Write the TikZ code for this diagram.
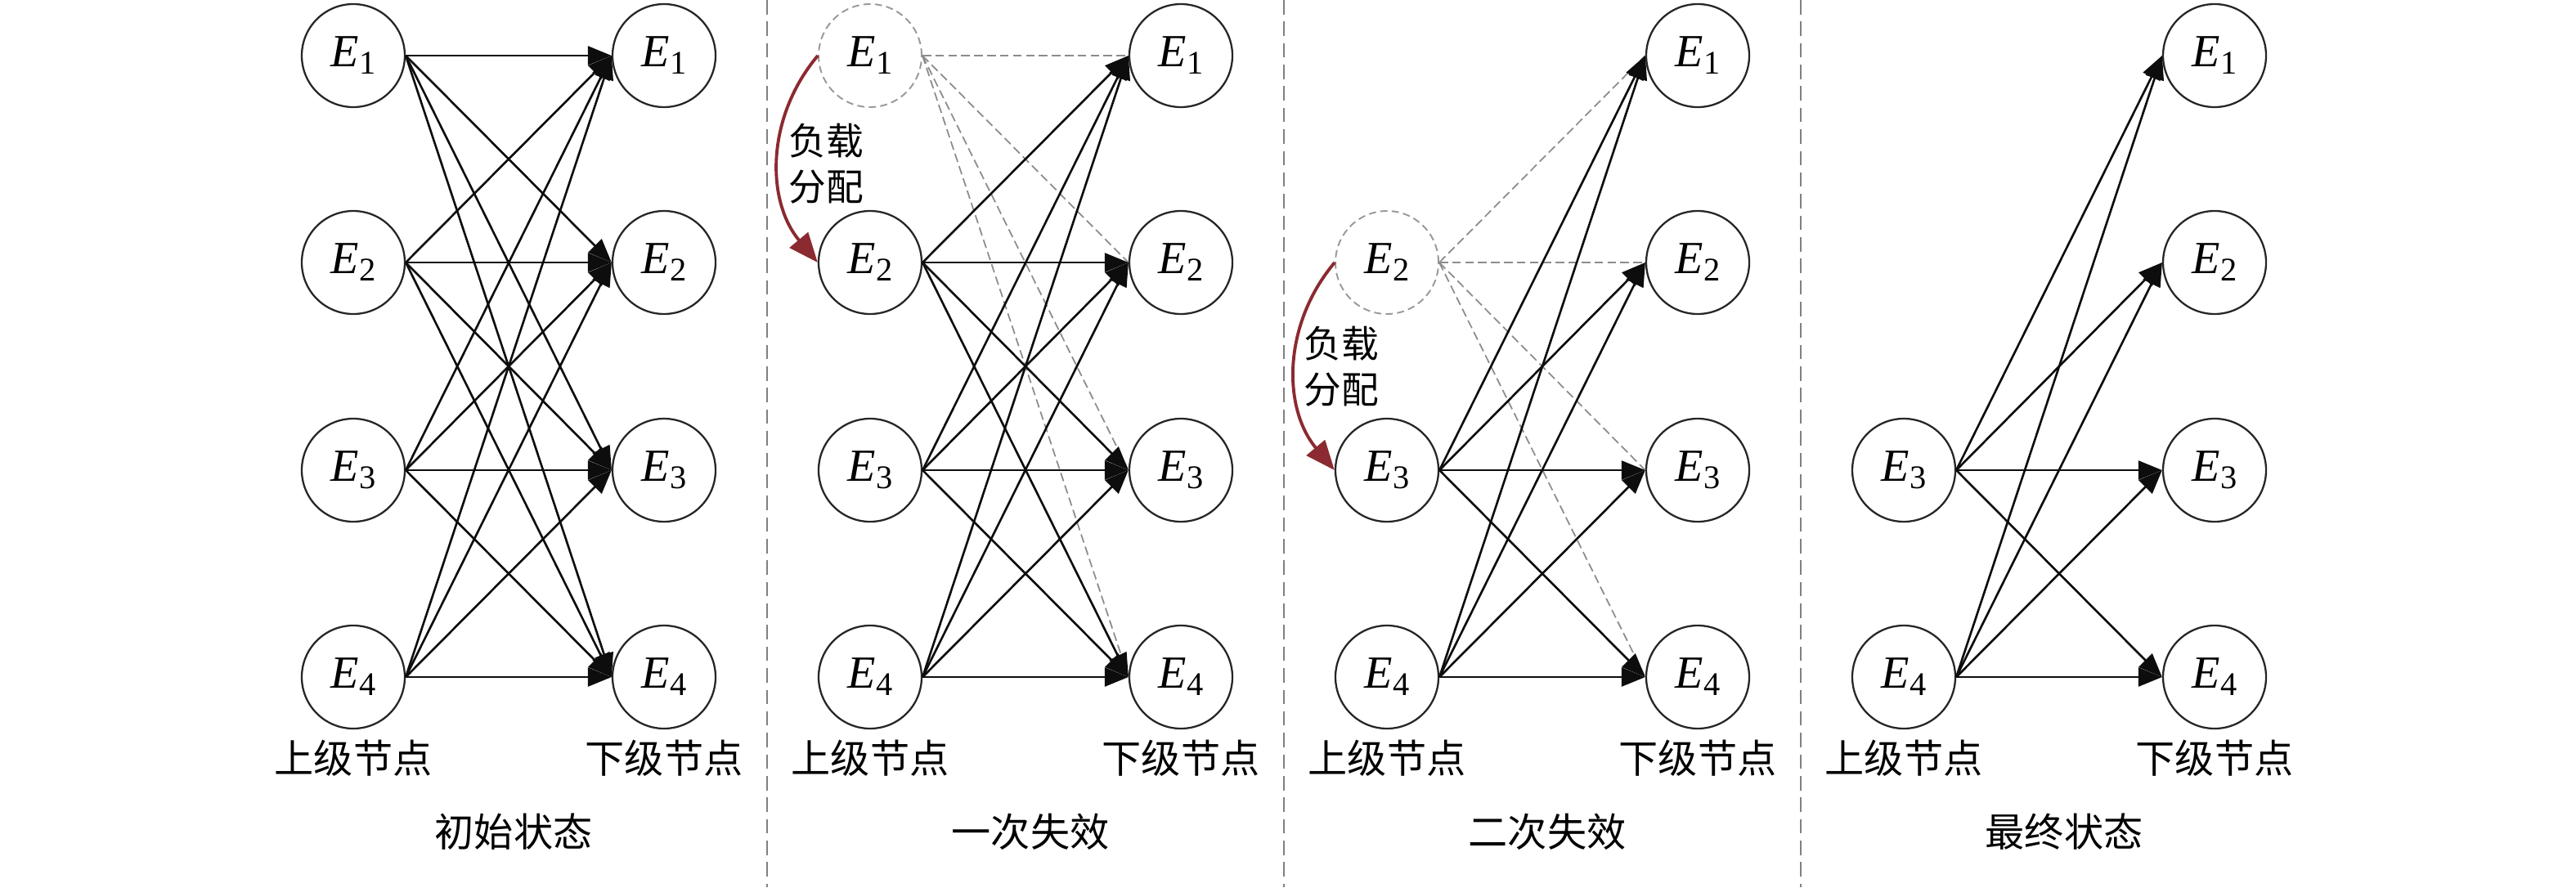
\documentclass[tikz,border=0pt]{standalone}
\usepackage{fontspec}
\setmainfont{Liberation Serif}
\newfontfamily\cjk{Noto Sans CJK SC}
\usetikzlibrary{arrows.meta}
\definecolor{loadred}{RGB}{139,42,48}
\newcommand{\En}[1]{{\fontsize{16pt}{16pt}\selectfont\textit{E}}\kern0.3pt\raisebox{-2.6pt}{\fontsize{11.5pt}{11.5pt}\selectfont #1}}
\begin{document}
\begin{tikzpicture}[x=1cm,y=1cm,
  nd/.style={circle, draw=black!85, line width=0.65pt, minimum size=1.26cm, inner sep=0pt},
  fnd/.style={circle, draw=black!40, dash pattern=on 2.5pt off 1.5pt, line width=0.55pt, minimum size=1.26cm, inner sep=0pt},
  ed/.style={draw=black!95, line width=0.75pt, -{Triangle[length=2.9mm,width=2.3mm]}},
  fed/.style={draw=black!45, line width=0.5pt, dash pattern=on 3pt off 1.5pt},
  lab/.style={font=\cjk\fontsize{13.7pt}{14pt}\selectfont, inner sep=0pt},
  divline/.style={draw=black!50, line width=0.5pt, dash pattern=on 5pt off 2.5pt},
  redarr/.style={draw=loadred, line width=1.1pt, -{Triangle[length=3.6mm,width=2.9mm]}},
  rlab/.style={font=\cjk\fontsize{13pt}{16pt}\selectfont, align=left, inner sep=0pt, anchor=west}
]
\useasboundingbox (0,0) rectangle (31.5,-10.85);

% dividers
\coordinate (d1t) at (9.38,0);    \coordinate (d1b) at (9.38,-10.85);
\coordinate (d2t) at (15.70,0);   \coordinate (d2b) at (15.70,-10.85);
\coordinate (d3t) at (22.02,0);   \coordinate (d3b) at (22.02,-10.85);
\draw[divline] (d1t) -- (d1b);
\draw[divline] (d2t) -- (d2b);
\draw[divline] (d3t) -- (d3b);

% right columns, labels, titles
\foreach \k/\xl/\xr/\tit in {1/4.32/8.12/初始状态, 2/10.64/14.44/一次失效, 3/16.96/20.76/二次失效, 4/23.28/27.08/最终状态}{
  \foreach \j/\y in {1/-0.68,2/-3.21,3/-5.75,4/-8.28}{
    \node[nd] (p\k r\j) at (\xr,\y) {\En{\j}};
  }
  \node[lab] (p\k up) at (\xl,-9.27) {上级节点};
  \node[lab] (p\k down) at (\xr,-9.27) {下级节点};
  \node[lab] (p\k title) at ({(\xl+\xr)/2+0.06},-10.17) {\tit};
}

% left columns
\foreach \j/\y in {1/-0.68,2/-3.21,3/-5.75,4/-8.28}{
  \node[nd] (p1l\j) at (4.32,\y) {\En{\j}};
}
\node[fnd] (p2l1) at (10.64,-0.68) {\En{1}};
\foreach \j/\y in {2/-3.21,3/-5.75,4/-8.28}{
  \node[nd] (p2l\j) at (10.64,\y) {\En{\j}};
}
\node[fnd] (p3l2) at (16.96,-3.21) {\En{2}};
\foreach \j/\y in {3/-5.75,4/-8.28}{
  \node[nd] (p3l\j) at (16.96,\y) {\En{\j}};
  \node[nd] (p4l\j) at (23.28,\y) {\En{\j}};
}

% failed (dashed) edges
\foreach \j in {1,...,4}{
  \draw[fed] (p2l1.east) -- (p2r\j.west);
  \draw[fed] (p3l2.east) -- (p3r\j.west);
}

% solid edges
\foreach \i in {1,...,4}{
  \foreach \j in {1,...,4}{
    \draw[ed] (p1l\i.east) -- (p1r\j.west);
  }
}
\foreach \i in {2,3,4}{
  \foreach \j in {1,...,4}{
    \draw[ed] (p2l\i.east) -- (p2r\j.west);
  }
}
\foreach \i in {3,4}{
  \foreach \j in {1,...,4}{
    \draw[ed] (p3l\i.east) -- (p3r\j.west);
    \draw[ed] (p4l\i.east) -- (p4r\j.west);
  }
}

% load redistribution
\draw[redarr] (p2l1.west) to[bend right=40] (p2l2.west);
\node[rlab] (p2load) at (9.64,-2.0) {负载\\分配};
\draw[redarr] (p3l2.west) to[bend right=40] (p3l3.west);
\node[rlab] (p3load) at (15.94,-4.48) {负载\\分配};
\end{tikzpicture}
\end{document}
